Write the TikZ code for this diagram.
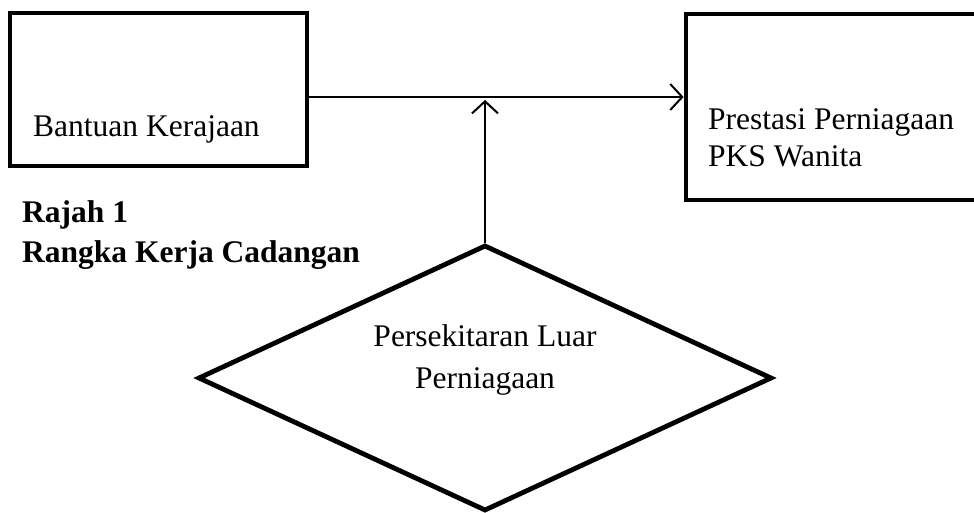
\documentclass[tikz,border=0pt]{standalone}
\usepackage{fontspec}
\setmainfont{Liberation Serif}
\usetikzlibrary{shapes.geometric,arrows.meta}
\begin{document}
\begin{tikzpicture}[x=1pt,y=1pt,>={Straight Barb[length=12pt,width=26pt,line width=2pt]},
  font=\fontsize{31.5}{37}\selectfont, line join=miter,
  kotak/.style={draw, line width=4.8pt, rectangle, inner sep=0pt},
  teks/.style={inner sep=0pt, align=left},
  anak/.style={line width=2pt}]
\useasboundingbox (0,0) rectangle (974,512);
\clip (0,0) rectangle (974,512);
% kotak
\node[kotak, minimum width=297pt, minimum height=153pt] (kerajaan) at (158.5,422.5) {};
\node[kotak, minimum width=324pt, minimum height=186pt] (prestasi) at (848,405) {};
\node[draw, diamond, line width=4.8pt, inner sep=0pt, aspect=2.15,
      minimum width=574pt, minimum height=266pt] (luar) at (485,134) {};
% teks
\node[teks, anchor=base west] (tbantuan) at (33,375) {Bantuan Kerajaan};
\node[teks, anchor=base west] (tprestasi) at (708,345) {Prestasi Perniagaan\\PKS Wanita};
\node[teks, anchor=base west, font=\fontsize{31.5}{40}\selectfont\bfseries] (rajah) at (22,250) {Rajah 1\\Rangka Kerja Cadangan};
\node[teks, align=center, anchor=base, font=\fontsize{31.5}{42}\selectfont] (tluar) at (485,124) {Persekitaran Luar\\Perniagaan};
% anak panah
\coordinate (simpang) at (485,415);
\draw[anak,->] (kerajaan.east |- simpang) -- (prestasi.west |- simpang);
\draw[anak,->] (luar.north) -- ([yshift=-3pt]simpang);
\end{tikzpicture}
\end{document}
